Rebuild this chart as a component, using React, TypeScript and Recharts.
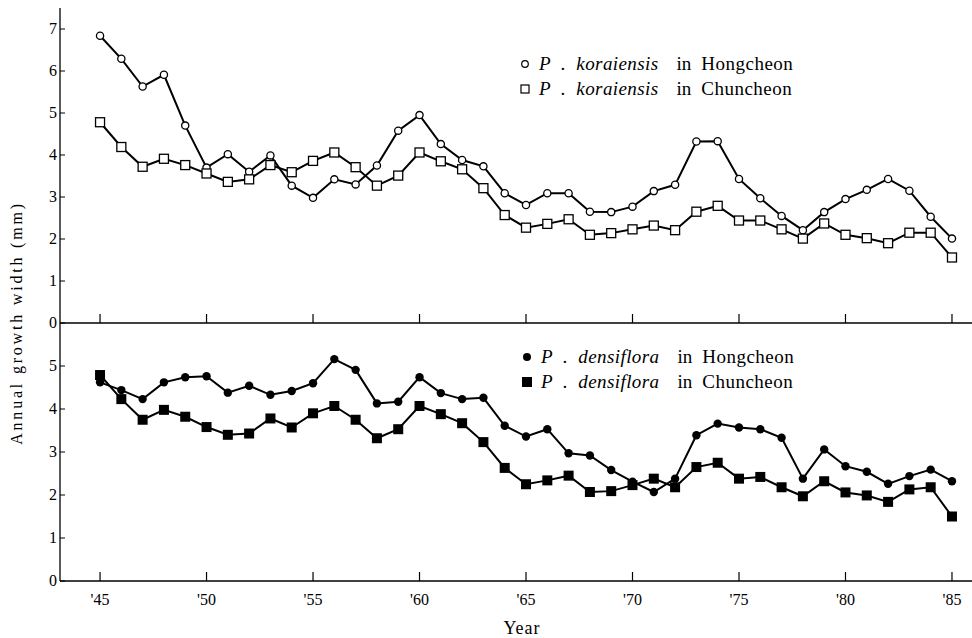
import { LineChart, Line, XAxis, YAxis } from 'recharts';

const years = [45, 46, 47, 48, 49, 50, 51, 52, 53, 54, 55, 56, 57, 58, 59, 60, 61, 62, 63, 64, 65, 66, 67, 68, 69, 70, 71, 72, 73, 74, 75, 76, 77, 78, 79, 80, 81, 82, 83, 84, 85];

const korHong = [6.84, 6.29, 5.63, 5.91, 4.70, 3.70, 4.02, 3.60, 3.99, 3.27, 2.98, 3.42, 3.30, 3.75, 4.58, 4.95, 4.26, 3.88, 3.73, 3.09, 2.81, 3.09, 3.09, 2.65, 2.64, 2.77, 3.14, 3.29, 4.32, 4.33, 3.43, 2.97, 2.55, 2.21, 2.64, 2.95, 3.17, 3.43, 3.15, 2.53, 2.01];
const korChun = [4.78, 4.19, 3.72, 3.91, 3.76, 3.56, 3.36, 3.42, 3.76, 3.59, 3.86, 4.06, 3.71, 3.27, 3.51, 4.06, 3.85, 3.66, 3.21, 2.57, 2.27, 2.36, 2.47, 2.10, 2.14, 2.23, 2.32, 2.21, 2.65, 2.79, 2.44, 2.44, 2.23, 2.01, 2.37, 2.10, 2.02, 1.90, 2.15, 2.15, 1.56];
const denHong = [4.62, 4.44, 4.23, 4.62, 4.74, 4.76, 4.38, 4.54, 4.33, 4.42, 4.60, 5.16, 4.91, 4.13, 4.17, 4.74, 4.37, 4.23, 4.26, 3.61, 3.36, 3.53, 2.97, 2.92, 2.58, 2.31, 2.07, 2.38, 3.39, 3.66, 3.57, 3.53, 3.33, 2.38, 3.06, 2.67, 2.54, 2.26, 2.44, 2.59, 2.32];
const denChun = [4.79, 4.23, 3.75, 3.98, 3.82, 3.58, 3.40, 3.43, 3.78, 3.57, 3.90, 4.07, 3.75, 3.32, 3.53, 4.07, 3.88, 3.67, 3.23, 2.63, 2.25, 2.34, 2.45, 2.07, 2.09, 2.23, 2.38, 2.18, 2.65, 2.75, 2.38, 2.42, 2.18, 1.97, 2.32, 2.06, 1.99, 1.84, 2.13, 2.18, 1.50];

const xTicks = [45, 50, 55, 60, 65, 70, 75, 80, 85];
const topTicks = [0, 1, 2, 3, 4, 5, 6, 7];
const bottomTicks = [0, 1, 2, 3, 4, 5];

const topData = years.map((y, i) => ({ year: y, hong: korHong[i], chun: korChun[i] }));
const bottomData = years.map((y, i) => ({ year: y, hong: denHong[i], chun: denChun[i] }));

const FONT = '"Liberation Serif", "DejaVu Serif", serif';
const W = 972;
const X_DOMAIN = [43.12, 85.94];

const YTick = (props: any) => {
  const { x, y, payload } = props;
  return (
    <g>
      <line x1={x} x2={x + 5} y1={y} y2={y} stroke="#000" strokeWidth={1} />
      <text x={x - 3} y={y} dy={5} textAnchor="end" fontFamily={FONT} fontSize={16} fill="#000">
        {payload.value}
      </text>
    </g>
  );
};

const XTick = (withLabel: boolean) => (props: any) => {
  const { x, y, payload } = props;
  return (
    <g>
      <line x1={x} x2={x} y1={y} y2={y - 9} stroke="#000" strokeWidth={1.2} />
      {withLabel && (
        <text x={x} y={y + 24} textAnchor="middle" fontFamily={FONT} fontSize={16} fill="#000">
          {"'" + payload.value}
        </text>
      )}
    </g>
  );
};

const openCircle = (p: any) => (
  <circle key={p.key ?? p.index} cx={p.cx} cy={p.cy} r={3.6} fill="#fff" stroke="#000" strokeWidth={1.3} />
);
const openSquare = (p: any) => (
  <rect key={p.key ?? p.index} x={p.cx - 4.5} y={p.cy - 4.5} width={9} height={9} fill="#fff" stroke="#000" strokeWidth={1.3} />
);
const dotCircle = (p: any) => (
  <circle key={p.key ?? p.index} cx={p.cx} cy={p.cy} r={4.2} fill="#000" stroke="none" />
);
const dotSquare = (p: any) => (
  <rect key={p.key ?? p.index} x={p.cx - 5} y={p.cy - 5} width={10} height={10} fill="#000" stroke="none" />
);

const legendRow = (marker: any, species: string, place: string) => (
  <div style={{ display: 'flex', alignItems: 'center', height: 25, fontFamily: FONT, fontSize: 19, color: '#000', whiteSpace: 'nowrap' }}>
    <svg width={14} height={14} style={{ marginRight: 7 }}>{marker}</svg>
    <span style={{ fontStyle: 'italic' }}>P</span>
    <span style={{ marginLeft: 10, marginRight: 11 }}>.</span>
    <span style={{ fontStyle: 'italic', letterSpacing: 0.4 }}>{species}</span>
    <span style={{ marginLeft: 18 }}>in</span>
    <span style={{ marginLeft: 10, letterSpacing: 0.5 }}>{place}</span>
  </div>
);

const YearLabel = (props: any) => {
  const { viewBox } = props;
  return (
    <text x={viewBox.x + viewBox.width / 2 + 6} y={viewBox.y + 53} textAnchor="middle" fontFamily={FONT} fontSize={18} letterSpacing={1} fill="#000">
      Year
    </text>
  );
};

export default function App() {
  return (
    <div style={{ position: 'absolute', left: 0, top: 0, width: W, height: 638, background: '#fff' }}>
      <div style={{ position: 'absolute', left: 0, top: 323 }}>
        <LineChart width={W} height={315} data={bottomData} margin={{ top: 0, right: 0, bottom: 0, left: 0 }}>
          <XAxis dataKey="year" type="number" domain={X_DOMAIN} ticks={xTicks} allowDataOverflow height={57}
            tickSize={0} tickMargin={0} tickLine={false} tick={XTick(true)} axisLine={{ stroke: '#000', strokeWidth: 1.5 }}
            label={<YearLabel />} />
          <YAxis type="number" domain={[0, 6]} ticks={bottomTicks} width={60} allowDataOverflow
            tickSize={0} tickMargin={0} tickLine={false} tick={YTick} axisLine={{ stroke: '#000', strokeWidth: 1.3 }} />
          <Line dataKey="hong" stroke="#000" strokeWidth={2} dot={dotCircle} isAnimationActive={false} />
          <Line dataKey="chun" stroke="#000" strokeWidth={2} dot={dotSquare} isAnimationActive={false} />
        </LineChart>
      </div>
      <div style={{ position: 'absolute', left: 0, top: 0 }}>
        <LineChart width={W} height={340} data={topData} margin={{ top: 8, right: 0, bottom: 0, left: 0 }} style={{ overflow: 'visible' }}>
          <XAxis dataKey="year" type="number" domain={X_DOMAIN} ticks={xTicks} allowDataOverflow height={17}
            tickSize={0} tickMargin={0} tickLine={false} tick={XTick(false)} axisLine={{ stroke: '#000', strokeWidth: 1.5 }} />
          <YAxis type="number" domain={[0, 7.5]} ticks={topTicks} width={60} allowDataOverflow
            tickSize={0} tickMargin={0} tickLine={false} tick={YTick} axisLine={{ stroke: '#000', strokeWidth: 1.3 }} />
          <Line dataKey="hong" stroke="#000" strokeWidth={2} dot={openCircle} isAnimationActive={false} />
          <Line dataKey="chun" stroke="#000" strokeWidth={2} dot={openSquare} isAnimationActive={false} />
        </LineChart>
      </div>
      <div style={{ position: 'absolute', left: 518, top: 51 }}>
        {legendRow(<circle cx={7} cy={7} r={3.3} fill="#fff" stroke="#000" strokeWidth={1.2} />, 'koraiensis', 'Hongcheon')}
        {legendRow(<rect x={3} y={3} width={8} height={8} fill="#fff" stroke="#000" strokeWidth={1.2} />, 'koraiensis', 'Chuncheon')}
      </div>
      <div style={{ position: 'absolute', left: 520, top: 344 }}>
        {legendRow(<circle cx={7} cy={7} r={4} fill="#000" />, 'densiflora', 'Hongcheon')}
        {legendRow(<rect x={2} y={2} width={10} height={10} fill="#000" />, 'densiflora', 'Chuncheon')}
      </div>
      <div style={{ position: 'absolute', left: 17, top: 323, transform: 'translate(-50%, -50%) rotate(-90deg)', whiteSpace: 'nowrap', fontFamily: FONT, fontSize: 16, letterSpacing: 2.8, color: '#000' }}>
        Annual growth width (mm)
      </div>
    </div>
  );
}
